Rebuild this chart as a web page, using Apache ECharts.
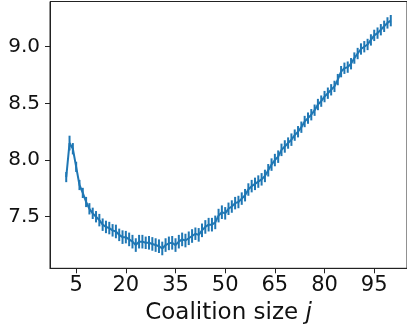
<!DOCTYPE html>
<html>
<head>
<meta charset="utf-8">
<script src="https://cdn.jsdelivr.net/npm/echarts@6/dist/echarts.min.js"></script>
<style>html,body{margin:0;padding:0;background:#fff}#c{width:407px;height:331px}</style>
</head>
<body>
<div id="c"></div>
<script>
var coalitionSizes = [2,3,4,5,6,7,8,9,10,11,12,13,14,15,16,17,18,19,20,21,22,23,24,25,26,27,28,29,30,31,32,33,34,35,36,37,38,39,40,41,42,43,44,45,46,47,48,49,50,51,52,53,54,55,56,57,58,59,60,61,62,63,64,65,66,67,68,69,70,71,72,73,74,75,76,77,78,79,80,81,82,83,84,85,86,87,88,89,90,91,92,93,94,95,96,97,98,99,100];
var meanValues = [7.85,8.15,8.10,7.94,7.78,7.71,7.63,7.57,7.53,7.50,7.47,7.43,7.41,7.40,7.38,7.37,7.34,7.32,7.32,7.30,7.28,7.25,7.28,7.28,7.27,7.27,7.26,7.25,7.24,7.22,7.25,7.265,7.27,7.25,7.28,7.30,7.29,7.31,7.33,7.35,7.34,7.38,7.41,7.43,7.43,7.45,7.51,7.54,7.53,7.57,7.59,7.62,7.63,7.66,7.69,7.74,7.77,7.79,7.81,7.83,7.86,7.91,7.96,8.00,8.03,8.09,8.12,8.15,8.18,8.22,8.25,8.29,8.34,8.37,8.40,8.44,8.49,8.52,8.56,8.59,8.62,8.65,8.71,8.78,8.81,8.82,8.85,8.90,8.94,8.98,9.00,9.02,9.06,9.10,9.12,9.15,9.18,9.21,9.23];
var errorValues = [0.045,0.065,0.05,0.045,0.045,0.045,0.045,0.05,0.05,0.05,0.055,0.055,0.055,0.055,0.055,0.06,0.055,0.06,0.055,0.06,0.06,0.06,0.06,0.06,0.055,0.06,0.06,0.06,0.06,0.06,0.06,0.06,0.06,0.06,0.06,0.06,0.06,0.06,0.06,0.055,0.06,0.06,0.06,0.06,0.06,0.06,0.06,0.06,0.055,0.055,0.055,0.055,0.055,0.055,0.055,0.055,0.055,0.055,0.055,0.055,0.055,0.055,0.055,0.055,0.055,0.055,0.055,0.05,0.055,0.05,0.05,0.05,0.05,0.05,0.05,0.05,0.05,0.05,0.05,0.05,0.05,0.05,0.05,0.05,0.05,0.05,0.05,0.05,0.05,0.05,0.05,0.05,0.05,0.05,0.05,0.05,0.05,0.05,0.05];
var xTickValues = [5,20,35,50,65,80,95];
var yTickValues = [7.5,8.0,8.5,9.0];

var lineData = coalitionSizes.map(function(j,i){return [j, meanValues[i]];});
var errData = coalitionSizes.map(function(j,i){return [j, meanValues[i]-errorValues[i], meanValues[i]+errorValues[i]];});
var blue = '#1f77b4';
var chart = echarts.init(document.getElementById('c'));
chart.setOption({
  animation:false,
  textStyle:{fontFamily:'DejaVu Sans'},
  grid:{left:50, top:1.5, width:359.3, height:266.8, show:true, borderColor:'#222', borderWidth:1, containLabel:false},
  xAxis:{type:'value', min:-2.9, max:104.9,
    axisLine:{show:true, onZero:false, lineStyle:{color:'#222', width:1}},
    splitLine:{show:false},
    axisTick:{show:true, customValues:xTickValues, length:5, lineStyle:{color:'#222', width:1}},
    axisLabel:{customValues:xTickValues, fontSize:21, color:'#111', margin:7, fontFamily:'DejaVu Sans'},
    name:'{a|Coalition size }{b|j}', nameLocation:'middle', nameGap:32,
    nameTextStyle:{fontSize:23, color:'#111', fontFamily:'DejaVu Sans', verticalAlign:'top',
      rich:{a:{fontSize:23, color:'#111', fontFamily:'DejaVu Sans'}, b:{fontSize:23, color:'#111', fontStyle:'italic', fontFamily:'DejaVu Sans'}}}
  },
  yAxis:{type:'value', min:7.045, max:9.399,
    axisLine:{show:true, onZero:false, lineStyle:{color:'#222', width:1}},
    splitLine:{show:false},
    axisTick:{show:true, customValues:yTickValues, length:5, lineStyle:{color:'#222', width:1}},
    axisLabel:{customValues:yTickValues, fontSize:20, color:'#111', margin:10, fontFamily:'DejaVu Sans',
      formatter:function(v){return v.toFixed(1);}}
  },
  series:[
    {type:'custom', data:errData, encode:{x:0, y:[1,2]}, z:2,
     renderItem:function(params, api){
       var lo = api.coord([api.value(0), api.value(1)]);
       var hi = api.coord([api.value(0), api.value(2)]);
       return {type:'line', shape:{x1:lo[0], y1:lo[1], x2:hi[0], y2:hi[1]}, style:{stroke:blue, lineWidth:2}};
     }},
    {type:'line', data:lineData, showSymbol:false, symbol:'none', lineStyle:{color:blue, width:2}, z:3}
  ]
});
</script>
</body>
</html>
